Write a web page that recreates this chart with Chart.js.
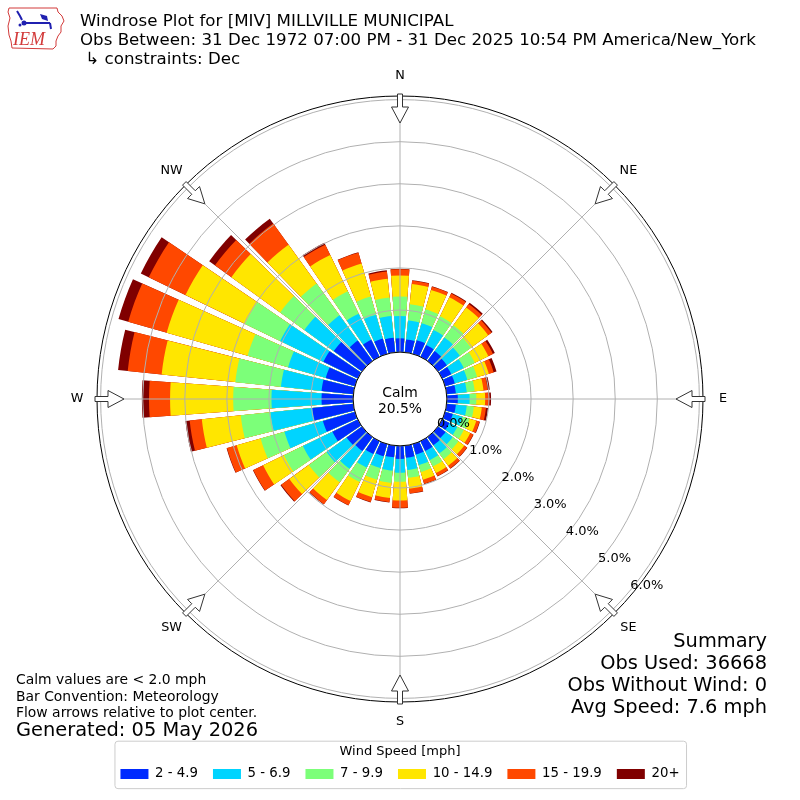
<!DOCTYPE html>
<html>
<head>
<meta charset="utf-8">
<title>Windrose MIV</title>
<script src="https://cdn.jsdelivr.net/npm/chart.js@4.4.1/dist/chart.umd.min.js"></script>
<style>
  html, body { margin: 0; padding: 0; background: #fff; }
  #rose { display: block; }
</style>
</head>
<body>
<canvas id="rose" width="800" height="800"></canvas>
<script>
// direction the wind blows from, degrees
const directions = [0, 10, 20, 30, 40, 50, 60, 70, 80, 90, 100, 110, 120, 130, 140, 150, 160, 170,
                    180, 190, 200, 210, 220, 230, 240, 250, 260, 270, 280, 290, 300, 310, 320, 330, 340, 350];
const speedBins = ['2 - 4.9', '5 - 6.9', '7 - 9.9', '10 - 14.9', '15 - 19.9', '20+'];

// percent of observations per direction, one list per speed bin
const speed2to5 = [0.33, 0.31, 0.34, 0.31, 0.29, 0.26, 0.24, 0.24, 0.22, 0.26, 0.22, 0.19, 0.19, 0.22, 0.24, 0.26, 0.26, 0.29,
                   0.31, 0.28, 0.30, 0.34, 0.41, 0.45, 0.67, 0.79, 0.98, 0.75, 0.76, 0.72, 0.91, 0.83, 0.60, 0.45, 0.38, 0.35];
const speed5to7 = [0.53, 0.45, 0.42, 0.40, 0.40, 0.38, 0.33, 0.31, 0.26, 0.28, 0.26, 0.24, 0.21, 0.21, 0.24, 0.24, 0.26, 0.29,
                   0.33, 0.32, 0.29, 0.36, 0.52, 0.59, 0.78, 0.95, 1.00, 1.19, 0.97, 0.93, 1.14, 0.86, 0.74, 0.69, 0.59, 0.52];
const speed7to10 = [0.46, 0.39, 0.34, 0.36, 0.36, 0.33, 0.29, 0.24, 0.19, 0.16, 0.17, 0.17, 0.17, 0.17, 0.17, 0.17, 0.17, 0.19,
                    0.21, 0.29, 0.29, 0.38, 0.40, 0.52, 0.50, 0.59, 0.71, 0.91, 1.09, 1.00, 0.93, 0.71, 0.93, 0.59, 0.45, 0.44];
const speed10to15 = [0.50, 0.48, 0.48, 0.50, 0.52, 0.50, 0.36, 0.29, 0.21, 0.21, 0.19, 0.17, 0.17, 0.17, 0.19, 0.17, 0.19, 0.26,
                     0.45, 0.36, 0.43, 0.50, 0.52, 0.57, 0.55, 0.59, 0.93, 1.50, 1.76, 2.00, 1.57, 1.43, 1.14, 0.96, 0.81, 0.45];
const speed15to20 = [0.15, 0.08, 0.08, 0.10, 0.10, 0.10, 0.12, 0.12, 0.10, 0.10, 0.10, 0.08, 0.08, 0.08, 0.08, 0.08, 0.10, 0.11,
                     0.17, 0.10, 0.12, 0.11, 0.12, 0.24, 0.26, 0.24, 0.29, 0.50, 0.81, 0.95, 0.97, 0.48, 0.62, 0.27, 0.27, 0.17];
const speed20up = [0.01, 0.01, 0.01, 0.02, 0.04, 0.03, 0.05, 0.07, 0.05, 0.04, 0.05, 0.01, 0.01, 0.01, 0.01, 0.01, 0.01, 0.01,
                   0.01, 0.01, 0.01, 0.01, 0.01, 0.02, 0.01, 0.01, 0.10, 0.17, 0.23, 0.24, 0.21, 0.17, 0.14, 0.05, 0.01, 0.03];

const calmPercent = 20.5;
const ringValues = [0, 1, 2, 3, 4, 5, 6];
const ringLabels = ['0.0%', '1.0%', '2.0%', '3.0%', '4.0%', '5.0%', '6.0%'];
const compassLabels = ['N', 'NE', 'E', 'SE', 'S', 'SW', 'W', 'NW'];

const titleLines = [
    'Windrose Plot for [MIV] MILLVILLE MUNICIPAL',
    'Obs Between: 31 Dec 1972 07:00 PM - 31 Dec 2025 10:54 PM America/New_York',
    ' \u21b3 constraints: Dec'
];
const noteLines = ['Calm values are < 2.0 mph', 'Bar Convention: Meteorology', 'Flow arrows relative to plot center.'];
const generatedLine = 'Generated: 05 May 2026';
const summaryLines = ['Summary', 'Obs Used: 36668', 'Obs Without Wind: 0', 'Avg Speed: 7.6 mph'];

const binColors = ['rgb(0,42,255)', 'rgb(0,212,255)', 'rgb(124,255,121)', 'rgb(255,230,0)', 'rgb(255,72,0)', 'rgb(128,0,0)'];
const BAR_DEG = 8.3;
const GAP_DEG = 10 - BAR_DEG;
const FONT = 'DejaVu Sans';

// stack the bins: each dataset holds the running total, smaller totals drawn on top
const bins = [speed2to5, speed5to7, speed7to10, speed10to15, speed15to20, speed20up];
const labels = [];
directions.forEach(d => { labels.push(d + '\u00b0'); labels.push(''); });
const running = directions.map(() => 0);
const datasets = bins.map((bin, k) => {
    const data = [];
    bin.forEach((v, i) => {
        running[i] += v;
        data.push(running[i]);
        data.push(0); // gap between bars
    });
    return {
        label: speedBins[k],
        data: data,
        borderWidth: 0,
        angle: (c) => (c.dataIndex % 2 === 0 ? BAR_DEG : GAP_DEG),
        backgroundColor: (c) => (c.dataIndex % 2 === 0 ? binColors[k] : 'rgba(0,0,0,0)')
    };
});

function drawLogo(ctx) {
    ctx.save();
    ctx.strokeStyle = '#d23a3a';
    ctx.lineWidth = 1;
    const outline = [[9, 8], [57, 8], [58, 12], [62, 16], [64, 21], [61, 26], [61, 32], [58, 36], [56, 41],
                     [56, 46], [53, 49], [12, 48], [11, 41], [9, 35], [8, 26], [10, 18], [8, 12]];
    ctx.beginPath();
    outline.forEach(([x, y], i) => (i ? ctx.lineTo(x, y) : ctx.moveTo(x, y)));
    ctx.closePath();
    ctx.stroke();
    ctx.strokeStyle = '#2020b0';
    ctx.fillStyle = '#2020b0';
    ctx.lineWidth = 2;
    ctx.beginPath();
    ctx.moveTo(23, 23); ctx.lineTo(50, 23);
    ctx.moveTo(17, 11); ctx.lineTo(20, 16); ctx.lineTo(22, 20);
    ctx.moveTo(50, 23); ctx.lineTo(51, 29);
    ctx.stroke();
    ctx.beginPath(); ctx.arc(24, 23, 2.5, 0, Math.PI * 2); ctx.fill();
    ctx.beginPath(); ctx.arc(20, 25, 1.5, 0, Math.PI * 2); ctx.fill();
    ctx.beginPath();
    ctx.moveTo(40, 14); ctx.lineTo(47, 16); ctx.lineTo(48, 21); ctx.lineTo(42, 19);
    ctx.closePath(); ctx.fill();
    ctx.fillStyle = '#d23a3a';
    ctx.font = 'italic 18px "Liberation Serif"';
    ctx.textAlign = 'left';
    ctx.textBaseline = 'alphabetic';
    ctx.fillText('IEM', 13, 45);
    ctx.restore();
}

const roseDecor = {
    id: 'roseDecor',
    afterDraw(chart) {
        const ctx = chart.ctx;
        const r = chart.scales.r;
        const cx = r.xCenter, cy = r.yCenter, R = r.drawingArea;
        const r0 = r.getDistanceFromCenterForValue(0);
        const pt = (deg, dist) => {
            const a = deg * Math.PI / 180;
            return [cx + dist * Math.sin(a), cy - dist * Math.cos(a)];
        };
        ctx.save();

        // spokes every 45 degrees
        ctx.strokeStyle = '#b0b0b0';
        ctx.lineWidth = 1;
        compassLabels.forEach((lab, i) => {
            const [x, y] = pt(i * 45, R);
            ctx.beginPath(); ctx.moveTo(cx, cy); ctx.lineTo(x, y); ctx.stroke();
        });

        // calm circle
        ctx.beginPath();
        ctx.arc(cx, cy, r0, 0, Math.PI * 2);
        ctx.fillStyle = '#fff';
        ctx.fill();
        ctx.strokeStyle = '#000';
        ctx.stroke();
        ctx.fillStyle = '#000';
        ctx.font = '13.9px "' + FONT + '"';
        ctx.textAlign = 'center';
        ctx.textBaseline = 'alphabetic';
        ctx.fillText('Calm', cx, cy - 2.5);
        ctx.fillText(calmPercent.toFixed(1) + '%', cx, cy + 13.5);

        // ring labels along 130 degrees
        ctx.font = '13px "' + FONT + '"';
        ctx.textAlign = 'left';
        ringValues.forEach((v, i) => {
            const [x, y] = pt(130, r.getDistanceFromCenterForValue(v));
            ctx.fillText(ringLabels[i], x + 1, y - 2);
        });

        // outer frame
        ctx.beginPath();
        ctx.arc(cx, cy, R, 0, Math.PI * 2);
        ctx.strokeStyle = '#000';
        ctx.lineWidth = 1;
        ctx.stroke();

        // hollow flow arrows pointing to the center
        const arrow = [[305, -2.5], [292, -2.5], [292, -8.5], [276, 0], [292, 8.5], [292, 2.5], [305, 2.5]];
        ctx.strokeStyle = '#333';
        ctx.fillStyle = '#fff';
        compassLabels.forEach((lab, i) => {
            const a = i * 45 * Math.PI / 180;
            const ux = Math.sin(a), uy = -Math.cos(a), vx = Math.cos(a), vy = Math.sin(a);
            ctx.beginPath();
            arrow.forEach(([al, ac], j) => {
                const x = cx + al * ux + ac * vx, y = cy + al * uy + ac * vy;
                if (j) ctx.lineTo(x, y); else ctx.moveTo(x, y);
            });
            ctx.closePath();
            ctx.fill();
            ctx.stroke();
        });

        // compass labels
        ctx.fillStyle = '#000';
        ctx.font = '12.8px "' + FONT + '"';
        ctx.textAlign = 'center';
        ctx.textBaseline = 'middle';
        compassLabels.forEach((lab, i) => {
            const [x, y] = pt(i * 45, 323);
            ctx.fillText(lab, x, y);
        });

        // header
        ctx.textBaseline = 'alphabetic';
        ctx.textAlign = 'left';
        ctx.font = '16.67px "' + FONT + '"';
        [26, 45, 63.5].forEach((y, i) => ctx.fillText(titleLines[i], 80, y));
        drawLogo(ctx);

        // notes, bottom left
        ctx.font = '13.9px "' + FONT + '"';
        [684, 701, 717].forEach((y, i) => ctx.fillText(noteLines[i], 16, y));
        ctx.font = '19.4px "' + FONT + '"';
        ctx.fillText(generatedLine, 16, 736);

        // summary, bottom right
        ctx.textAlign = 'right';
        [647, 669, 691, 713].forEach((y, i) => ctx.fillText(summaryLines[i], 767, y));

        // frame round the legend
        const lg = chart.legend;
        const hb = lg.legendHitBoxes;
        const last = hb[hb.length - 1];
        const x0 = hb[0].left - 5.5, x1 = last.left + last.width + 7;
        const y0 = lg.top - 2.5, y1 = lg.bottom - 2;
        const rad = 3;
        ctx.beginPath();
        ctx.moveTo(x0 + rad, y0);
        ctx.lineTo(x1 - rad, y0); ctx.arcTo(x1, y0, x1, y0 + rad, rad);
        ctx.lineTo(x1, y1 - rad); ctx.arcTo(x1, y1, x1 - rad, y1, rad);
        ctx.lineTo(x0 + rad, y1); ctx.arcTo(x0, y1, x0, y1 - rad, rad);
        ctx.lineTo(x0, y0 + rad); ctx.arcTo(x0, y0, x0 + rad, y0, rad);
        ctx.closePath();
        ctx.strokeStyle = '#cccccc';
        ctx.lineWidth = 1;
        ctx.stroke();

        ctx.restore();
    }
};

Chart.defaults.font.family = FONT;
Chart.defaults.color = '#000';

const rose = new Chart(document.getElementById('rose'), {
    type: 'polarArea',
    data: { labels: labels, datasets: datasets },
    options: {
        responsive: false,
        animation: false,
        layout: { padding: { left: 97, right: 97, top: 54.5, bottom: 9.35 } },
        scales: {
            r: {
                min: -1.114,
                max: 6.086,
                beginAtZero: false,
                startAngle: -BAR_DEG / 2,
                afterBuildTicks: (scale) => { scale.ticks = ringValues.map(v => ({ value: v })); },
                ticks: { display: false },
                grid: { circular: true, color: '#b0b0b0', lineWidth: 1, z: 1 },
                angleLines: { display: false },
                pointLabels: { display: false }
            }
        },
        plugins: {
            tooltip: { enabled: false },
            legend: {
                position: 'bottom',
                title: {
                    display: true,
                    text: 'Wind Speed [mph]',
                    font: { size: 13 },
                    padding: { top: 1.5, bottom: -8.45 }
                },
                labels: {
                    font: { size: 13.3 },
                    boxWidth: 28,
                    boxHeight: 10,
                    padding: 15,
                    generateLabels: (chart) => chart.data.datasets.map((ds, i) => ({
                        text: ds.label,
                        fillStyle: binColors[i],
                        strokeStyle: binColors[i],
                        lineWidth: 0,
                        hidden: false,
                        datasetIndex: i
                    }))
                }
            }
        }
    },
    plugins: [roseDecor]
});
</script>
</body>
</html>
